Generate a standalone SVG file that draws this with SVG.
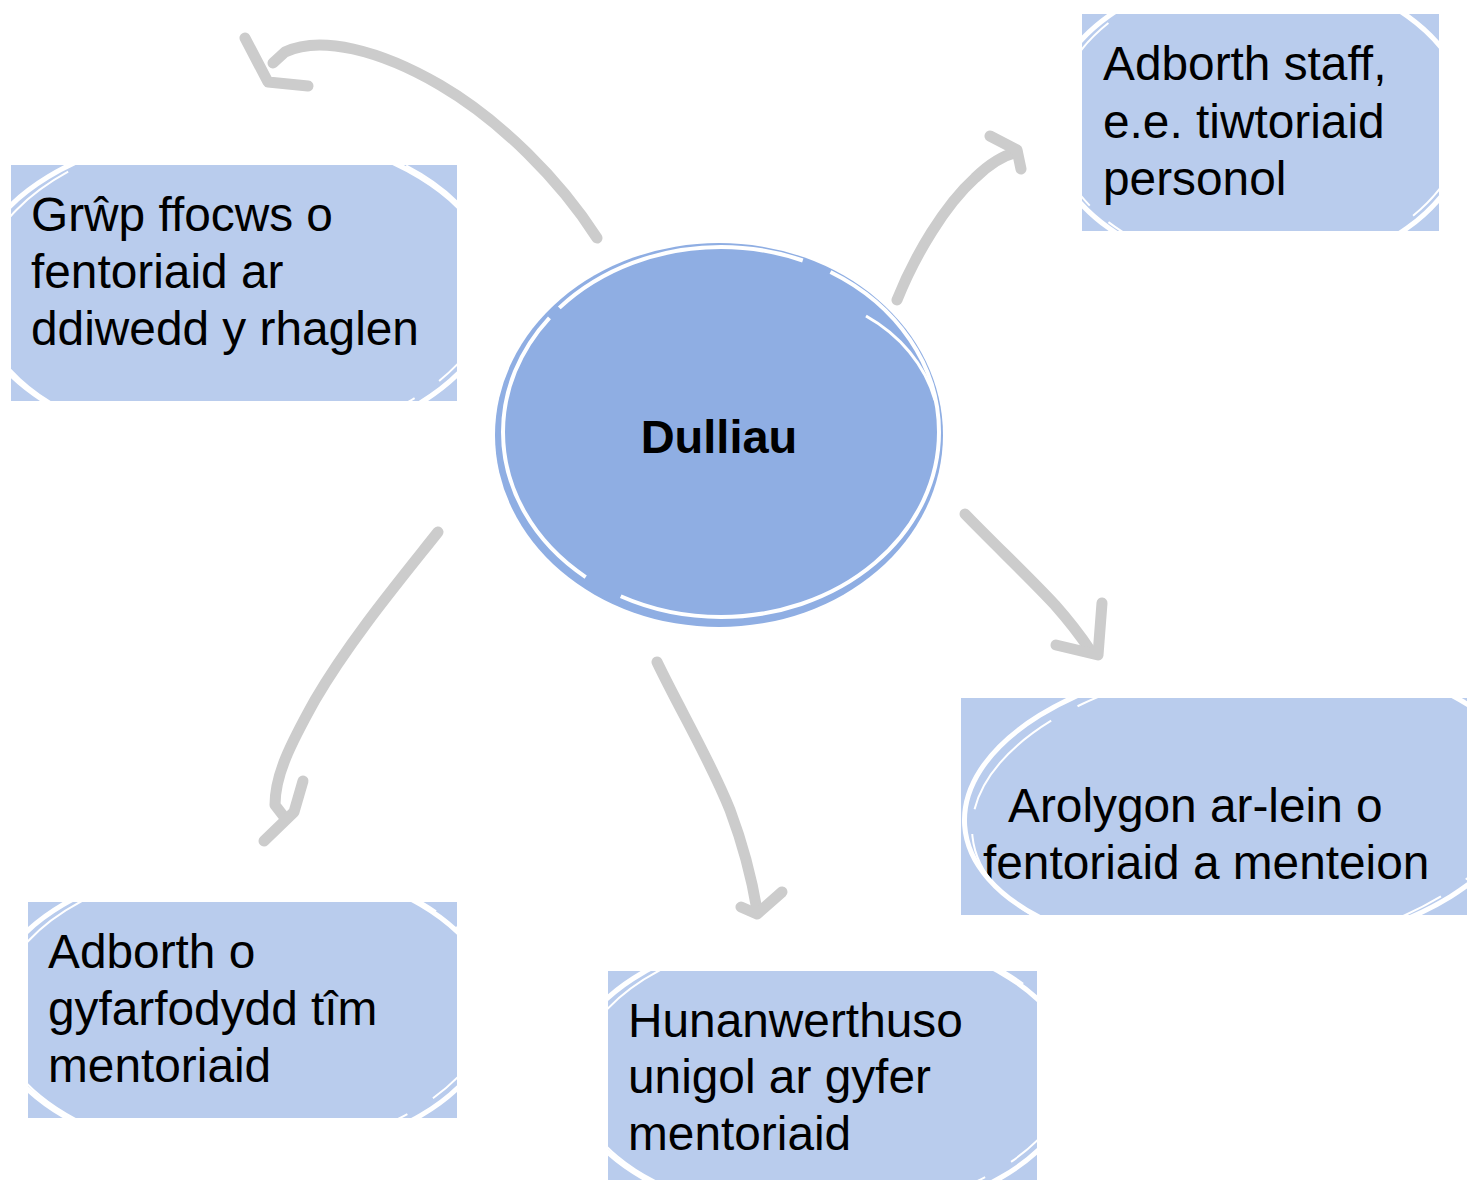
<svg xmlns="http://www.w3.org/2000/svg" width="1467" height="1180" viewBox="0 0 1467 1180">
<style>
.box{fill:#B9CCED}
.txt{font-family:"Liberation Sans",Arial,sans-serif;font-size:47.8px;fill:#000}
.ctr{font-family:"Liberation Sans",Arial,sans-serif;font-size:47px;font-weight:bold;fill:#000}
.sk1{fill:none;stroke:#fff;stroke-width:5}
.sk2{fill:none;stroke:#fff;stroke-width:2;stroke-dasharray:120 30 60 25}
.arr{fill:none;stroke:#CCCCCC;stroke-width:11;stroke-linecap:round;stroke-linejoin:round}
</style>
<defs>
<clipPath id="c1"><rect x="11" y="165" width="446" height="236"/></clipPath>
<clipPath id="c2"><rect x="1082" y="14" width="357" height="217"/></clipPath>
<clipPath id="c3"><rect x="961" y="698" width="506" height="217"/></clipPath>
<clipPath id="c4"><rect x="28" y="902" width="429" height="216"/></clipPath>
<clipPath id="c5"><rect x="608" y="971" width="429" height="209"/></clipPath>
</defs>
<rect width="1467" height="1180" fill="#fff"/>

<g id="connectors">
<path class="arr" d="M597,238 C560,180 500,120 440,85 C380,50 320,35 285,52 L273,63"/>
<path class="arr" d="M245,38 L268,82 L308,86"/>
<path class="arr" d="M897,300 C915,255 945,205 975,178 C990,163 1005,155 1017,152"/>
<path class="arr" d="M990,136 L1017,150 L1021,169"/>
<path class="arr" d="M965,514 C995,545 1030,578 1055,605 C1070,622 1082,638 1090,650"/>
<path class="arr" d="M1056,645 L1098,655 L1102,603"/>
<path class="arr" d="M657,662 C680,710 710,760 730,810 C745,850 752,880 757,910"/>
<path class="arr" d="M741,907 L757,914 L782,892"/>
<path class="arr" d="M438,532 C400,580 350,640 315,700 C290,745 275,775 275,805 L285,818"/>
<path class="arr" d="M303,781 L294,812 L264,841"/>
</g>

<g id="center">
<ellipse cx="719" cy="435" rx="224" ry="192" fill="#8FAEE3"/>
<ellipse cx="721" cy="432" rx="218" ry="185" fill="none" stroke="#fff" stroke-width="4" stroke-dasharray="420 40 300 14 260 30"/>
<path d="M866,316 C900,335 925,365 935,400" fill="none" stroke="#fff" stroke-width="3"/>
<text class="ctr" x="719" y="453" text-anchor="middle">Dulliau</text>
</g>

<g id="n1">
<rect class="box" x="11" y="165" width="446" height="236"/>
<text class="txt"><tspan x="31" y="231">Grŵp ffocws o</tspan><tspan x="31" y="288">fentoriaid ar</tspan><tspan x="31" y="345">ddiwedd y rhaglen</tspan></text>
<g clip-path="url(#c1)">
<ellipse class="sk1" cx="234" cy="290" rx="263" ry="160"/>
<ellipse class="sk2" cx="236" cy="288" rx="258" ry="158" transform="rotate(-2 236 288)"/>
</g>
</g>

<g id="n2">
<rect class="box" x="1082" y="14" width="357" height="217"/>
<text class="txt"><tspan x="1103" y="80">Adborth staff,</tspan><tspan x="1103" y="138">e.e. tiwtoriaid</tspan><tspan x="1103" y="195">personol</tspan></text>
<g clip-path="url(#c2)">
<ellipse class="sk1" cx="1258" cy="122" rx="211" ry="150"/>
<ellipse class="sk2" cx="1260" cy="120" rx="206" ry="147" transform="rotate(-2 1260 120)"/>
</g>
</g>

<g id="n3">
<rect class="box" x="961" y="698" width="506" height="217"/>
<text class="txt"><tspan x="1008" y="822">Arolygon ar-lein o</tspan><tspan x="983" y="879">fentoriaid a menteion</tspan></text>
<g clip-path="url(#c3)">
<ellipse class="sk1" cx="1245" cy="806" rx="281" ry="148" transform="rotate(-4 1245 806)"/>
<ellipse class="sk2" cx="1247" cy="808" rx="276" ry="145" transform="rotate(-6 1247 808)"/>
</g>
</g>

<g id="n4">
<rect class="box" x="28" y="902" width="429" height="216"/>
<text class="txt"><tspan x="48" y="968">Adborth o</tspan><tspan x="48" y="1025">gyfarfodydd tîm</tspan><tspan x="48" y="1082">mentoriaid</tspan></text>
<g clip-path="url(#c4)">
<ellipse class="sk1" cx="242" cy="1010" rx="253" ry="149"/>
<ellipse class="sk2" cx="244" cy="1008" rx="248" ry="146" transform="rotate(-2 244 1008)"/>
</g>
</g>

<g id="n5">
<rect class="box" x="608" y="971" width="429" height="209"/>
<text class="txt"><tspan x="628" y="1037">Hunanwerthuso</tspan><tspan x="628" y="1093">unigol ar gyfer</tspan><tspan x="628" y="1150">mentoriaid</tspan></text>
<g clip-path="url(#c5)">
<ellipse class="sk1" cx="822" cy="1075" rx="253" ry="145"/>
<ellipse class="sk2" cx="824" cy="1073" rx="248" ry="142" transform="rotate(-2 824 1073)"/>
</g>
</g>
</svg>
